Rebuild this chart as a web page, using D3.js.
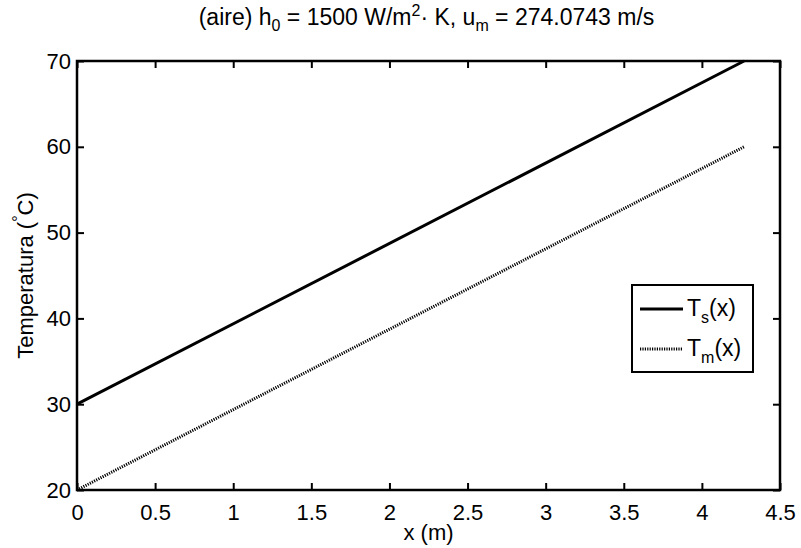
<!DOCTYPE html>
<html><head><meta charset="utf-8">
<script src="https://cdn.jsdelivr.net/npm/d3@7"></script>
<style>body{margin:0;background:#fff}svg{display:block}text{font-family:"Liberation Sans",Arial,Helvetica,sans-serif;fill:#000}</style>
</head><body>
<script>
const xValues = [0, 4.27];
const tsValues = [30, 70];
const tmValues = [20, 60];
const xTicks = [0, 0.5, 1, 1.5, 2, 2.5, 3, 3.5, 4, 4.5];
const yTicks = [20, 30, 40, 50, 60, 70];
const seriesNames = ["s", "m"];

const W = 801, H = 548;
const m = {left: 77, right: 21, top: 61, bottom: 58};
const svg = d3.select("body").append("svg").attr("width", W).attr("height", H);
const x = d3.scaleLinear().domain([0, 4.5]).range([m.left, W - m.right]);
const y = d3.scaleLinear().domain([20, 70]).range([H - m.bottom, m.top]);
const fs = 22;

// lines
const line = d3.line().x(d => x(d[0])).y(d => y(d[1]));
svg.append("path").datum(xValues.map((v, i) => [v, tsValues[i]]))
  .attr("d", line).attr("fill", "none").attr("stroke", "#000").attr("stroke-width", 3);
svg.append("path").datum(xValues.map((v, i) => [v, tmValues[i]]))
  .attr("d", line).attr("fill", "none").attr("stroke", "#000").attr("stroke-width", 3)
  .attr("stroke-dasharray", "1.2,1.2");

// axes
const tl = 7;
const gB = svg.append("g").attr("transform", `translate(0,${y(20)})`)
  .call(d3.axisBottom(x).tickValues(xTicks).tickSizeInner(-tl).tickSizeOuter(0).tickPadding(14).tickFormat(d3.format("")));
const gT = svg.append("g").attr("transform", `translate(0,${y(70)})`)
  .call(d3.axisTop(x).tickValues(xTicks).tickSizeInner(-tl).tickSizeOuter(0).tickFormat(""));
const gL = svg.append("g").attr("transform", `translate(${x(0)},0)`)
  .call(d3.axisLeft(y).tickValues(yTicks).tickSizeInner(-tl).tickSizeOuter(0).tickPadding(6));
const gR = svg.append("g").attr("transform", `translate(${x(4.5)},0)`)
  .call(d3.axisRight(y).tickValues(yTicks).tickSizeInner(-tl).tickSizeOuter(0).tickFormat(""));
[gB, gT, gL, gR].forEach(g => {
  g.select(".domain").remove();
  g.selectAll("line").attr("stroke", "#000").attr("stroke-width", 2);
  g.selectAll("text").style("font-size", fs + "px").attr("fill", "#000");
});
gB.selectAll("text").attr("dy", "0.71em");
svg.append("rect").attr("x", x(0)).attr("y", y(70))
  .attr("width", x(4.5) - x(0)).attr("height", y(20) - y(70))
  .attr("fill", "none").attr("stroke", "#000").attr("stroke-width", 2.5);

// title
const t = svg.append("text").attr("x", (x(0) + x(4.5)) / 2 - 2).attr("y", 25)
  .attr("text-anchor", "middle").style("font-size", "23px");
t.append("tspan").text("(aire) h");
t.append("tspan").attr("dy", 6).style("font-size", "16px").text("0");
t.append("tspan").attr("dy", -6).text(" = 1500 W/m");
t.append("tspan").attr("dy", -9).style("font-size", "16px").text("2");
t.append("tspan").attr("dy", 9).text("· K, u");
t.append("tspan").attr("dy", 6).style("font-size", "16px").text("m");
t.append("tspan").attr("dy", -6).text(" = 274.0743 m/s");

// x label
svg.append("text").attr("x", (x(0) + x(4.5)) / 2).attr("y", 540)
  .attr("text-anchor", "middle").style("font-size", fs + "px").text("x (m)");

// y label
const yl = svg.append("text").attr("transform", `translate(33,${(y(20) + y(70)) / 2}) rotate(-90)`)
  .attr("text-anchor", "middle").style("font-size", fs + "px");
yl.append("tspan").text("Temperatura (");
yl.append("tspan").attr("dy", -9).style("font-size", "16px").text("°");
yl.append("tspan").attr("dy", 9).text("C)");

// legend
const lg = svg.append("g");
lg.append("rect").attr("x", 632).attr("y", 285).attr("width", 121).attr("height", 87)
  .attr("fill", "#fff").attr("stroke", "#000").attr("stroke-width", 2);
const rows = [{dash: null, yy: 309}, {dash: "1.2,1.2", yy: 349}];
rows.forEach((r, i) => {
  const l = lg.append("line").attr("x1", 640).attr("x2", 683).attr("y1", r.yy).attr("y2", r.yy)
    .attr("stroke", "#000").attr("stroke-width", 3);
  if (r.dash) l.attr("stroke-dasharray", r.dash);
  const tx = lg.append("text").attr("x", 687).attr("y", r.yy + 7).style("font-size", "23px");
  tx.append("tspan").text("T");
  tx.append("tspan").attr("dy", 7).style("font-size", "16px").text(seriesNames[i]);
  tx.append("tspan").attr("dy", -7).text("(x)");
});
</script>
</body></html>
